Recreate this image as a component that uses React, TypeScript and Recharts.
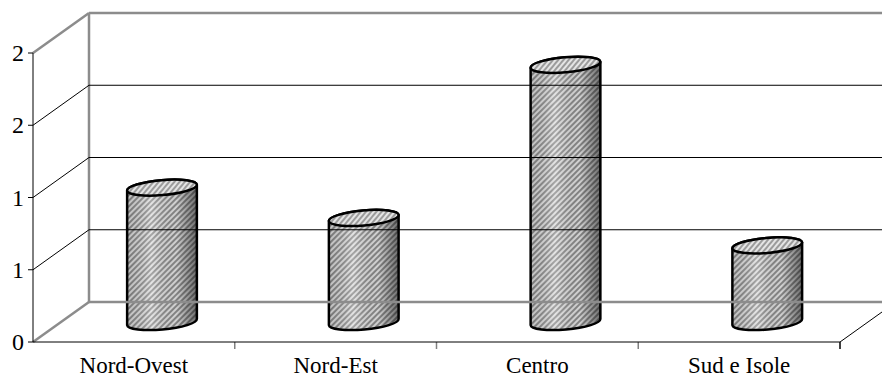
import React from 'react';
import { BarChart, Bar, XAxis, YAxis, ReferenceLine, ReferenceArea } from 'recharts';

// Regional values
const regions = ['Nord-Ovest', 'Nord-Est', 'Centro', 'Sud e Isole'];
const values = [0.93, 0.72, 1.78, 0.53];
const yTicks = [0, 0.5, 1, 1.5, 2];

const data = regions.map((name, i) => ({ name, value: values[i] }));

const W = 882;
const H = 378;
// depth offset of the back wall relative to the front plane
const DX = 56;
const DY = -40;
const WALL = '#8c8c8c';
const FONT = "'Liberation Serif', 'Times New Roman', serif";
const TILT = -5;

const fmt = (v: number) => String(Math.round(v));

// Walls, floor outline and category separators, drawn from the plot rectangle
const Frame = (props: any) => {
  const { x, y, width, height } = props;
  const bottom = y + height;
  const right = x + width;
  const band = width / regions.length;
  return (
    <g>
      <defs>
        <pattern id="hatch" patternUnits="userSpaceOnUse" width="4" height="4" patternTransform="rotate(45)">
          <rect width="4" height="4" fill="#dcdcdc" />
          <line x1="1" y1="0" x2="1" y2="4" stroke="#666" strokeWidth="1.4" />
        </pattern>
        <pattern id="hatchTop" patternUnits="userSpaceOnUse" width="4" height="4" patternTransform="rotate(45)">
          <rect width="4" height="4" fill="#e4e4e4" />
          <line x1="1" y1="0" x2="1" y2="4" stroke="#6a6a6a" strokeWidth="1.2" />
        </pattern>
        <linearGradient id="shade" x1="0" y1="0" x2="1" y2="0">
          <stop offset="0" stopColor="#000" stopOpacity="0.12" />
          <stop offset="0.35" stopColor="#fff" stopOpacity="0.25" />
          <stop offset="0.7" stopColor="#000" stopOpacity="0.05" />
          <stop offset="1" stopColor="#000" stopOpacity="0.5" />
        </linearGradient>
      </defs>
      <line x1={x + DX} y1={y + DY} x2={x + DX} y2={bottom + DY} stroke={WALL} strokeWidth={2.5} />
      <line x1={right} y1={bottom} x2={right + DX} y2={bottom + DY} stroke="#000" strokeWidth={1} />
      {regions.map((_, i) => (
        <line
          key={i}
          x1={x + band * (i + 1)}
          y1={bottom}
          x2={x + band * (i + 1)}
          y2={bottom + 7}
          stroke={i === regions.length - 1 ? '#000' : '#808080'}
          strokeWidth={1.5}
        />
      ))}
    </g>
  );
};

// Diagonal on the side wall plus the gridline on the back wall
const makeGridShape = (value: number) => (props: any) => {
  const { x1, y1, x2 } = props;
  const edge = value === yTicks[0] || value === yTicks[yTicks.length - 1];
  const stroke = edge ? WALL : '#000';
  const sw = edge ? 2.5 : 1;
  return (
    <g>
      <line x1={x1} y1={y1} x2={x1 + DX} y2={y1 + DY} stroke={stroke} strokeWidth={sw} />
      <line x1={x1 + DX} y1={y1 + DY} x2={x2 + DX} y2={y1 + DY} stroke={stroke} strokeWidth={sw} />
    </g>
  );
};

const Cylinder = (props: any) => {
  const { x, y, width, height } = props;
  if (width == null || height == null) return null;
  const rx = width / 2;
  const ry = 7.5;
  const cx = x + rx + DX / 2;
  const top = y + DY / 2;
  const bot = y + height + DY / 2;
  const rad = (TILT * Math.PI) / 180;
  const ex = rx * Math.cos(rad);
  const ey = rx * Math.sin(rad);
  const body = `M${cx - ex},${top - ey} L${cx - ex},${bot - ey} A${rx},${ry} ${TILT} 0 0 ${cx + ex},${bot + ey} L${cx + ex},${top + ey} A${rx},${ry} ${TILT} 0 0 ${cx - ex},${top - ey} Z`;
  return (
    <g>
      <path d={body} fill="url(#hatch)" />
      <path d={body} fill="url(#shade)" />
      <path d={body} fill="none" stroke="#000" strokeWidth={2.5} strokeLinejoin="round" />
      <ellipse
        cx={cx}
        cy={top}
        rx={rx}
        ry={ry}
        transform={`rotate(${TILT} ${cx} ${top})`}
        fill="url(#hatchTop)"
        stroke="#000"
        strokeWidth={2.5}
      />
    </g>
  );
};

const CategoryTick = (props: any) => {
  const { x, y, payload } = props;
  return (
    <text x={x} y={y + 31} textAnchor="middle" fill="#000" fontSize={23} fontFamily={FONT}>
      {payload.value}
    </text>
  );
};

const ValueTick = (props: any) => {
  const { x, y, payload } = props;
  return (
    <text x={x} y={y} dy="0.34em" textAnchor="end" fill="#000" fontSize={24} fontFamily={FONT}>
      {fmt(payload.value)}
    </text>
  );
};

export default function App() {
  return (
    <div style={{ position: 'absolute', left: 0, top: 0, width: W, height: H, background: '#fff' }}>
      <BarChart width={W} height={H} data={data} margin={{ top: 53, right: 42, bottom: 0, left: 0 }}>
        <ReferenceArea y1={0} y2={2} shape={Frame} />
        {yTicks.map((t) => (
          <ReferenceLine key={t} y={t} shape={makeGridShape(t)} />
        ))}
        <XAxis
          dataKey="name"
          height={36}
          axisLine={{ stroke: '#000', strokeWidth: 1 }}
          tickLine={false}
          tickSize={0}
          tickMargin={0}
          tick={<CategoryTick />}
        />
        <YAxis
          width={33}
          domain={[0, 2]}
          ticks={yTicks}
          axisLine={{ stroke: '#000', strokeWidth: 1 }}
          tickLine={{ stroke: '#000' }}
          tickSize={5}
          tickMargin={4}
          tick={<ValueTick />}
        />
        <Bar dataKey="value" barSize={70} shape={Cylinder} isAnimationActive={false} />
      </BarChart>
    </div>
  );
}
